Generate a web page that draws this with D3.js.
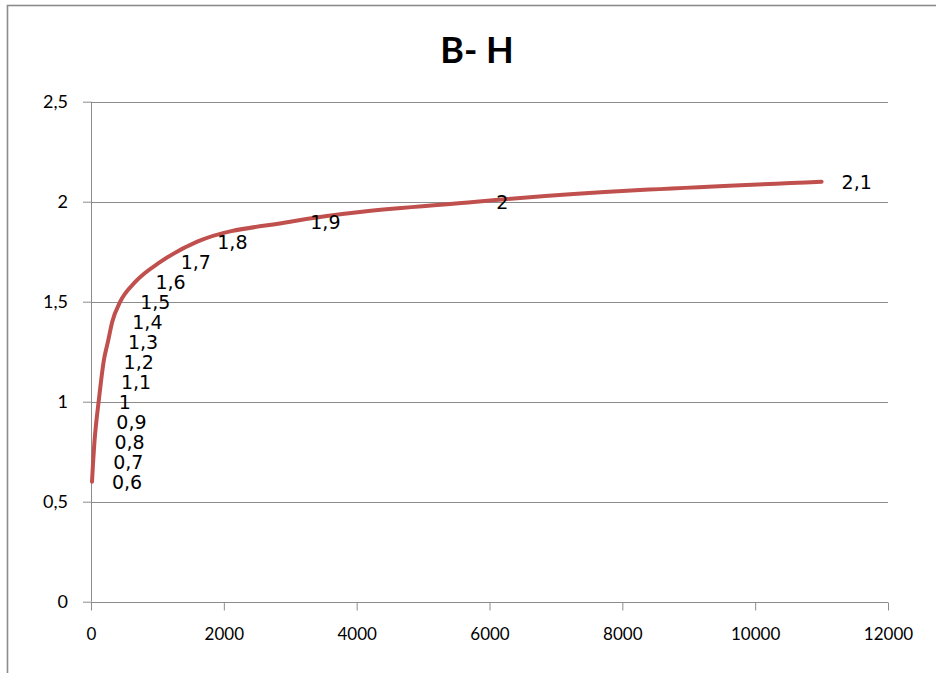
<!DOCTYPE html>
<html>
<head>
<meta charset="utf-8">
<script src="https://cdn.jsdelivr.net/npm/d3@7"></script>
<style>
  html, body { margin: 0; padding: 0; background: #fff; }
  svg { display: block; }
</style>
</head>
<body>
<svg id="chart" width="936" height="673"></svg>
<script>
// Magnetisation curve: flux density B (T) against field strength H (A/m)
const fieldH = [15, 32, 52, 80, 115, 150, 190, 255, 320, 440, 670, 1050, 1600, 3000, 5800, 11000];
const fluxB  = [0.6, 0.7, 0.8, 0.9, 1.0, 1.1, 1.2, 1.3, 1.4, 1.5, 1.6, 1.7, 1.8, 1.9, 2.0, 2.1];
const xTicks = [0, 2000, 4000, 6000, 8000, 10000, 12000];
const yTicks = [0, 0.5, 1, 1.5, 2, 2.5];
const chartTitle = "B- H";

const locale = d3.formatLocale({ decimal: ",", thousands: "", grouping: [3], currency: ["", ""] });
const fmt = locale.format("~g");

const svg = d3.select("#chart");
const plotL = 91, plotR = 888, plotT = 101.7, plotB = 601.7;

const x = d3.scaleLinear().domain([0, 12000]).range([plotL, plotR]);
const y = d3.scaleLinear().domain([0, 2.5]).range([plotB, plotT]);

// outer chart frame
svg.append("rect")
  .attr("x", 7.5).attr("y", 5.5)
  .attr("width", 1000).attr("height", 1000)
  .attr("fill", "none").attr("stroke", "#8c8c8c").attr("stroke-width", 1.6);

// title
svg.append("text")
  .attr("x", 477).attr("y", 63)
  .attr("text-anchor", "middle")
  .attr("font-family", "Lato, 'Open Sans', sans-serif")
  .attr("font-weight", "bold")
  .attr("font-size", 36)
  .attr("fill", "#000")
  .text(chartTitle);

// horizontal gridlines
svg.append("g")
  .selectAll("line")
  .data(yTicks.filter(t => t > 0))
  .join("line")
  .attr("x1", plotL).attr("x2", plotR)
  .attr("y1", d => Math.round(y(d)) + 0.5).attr("y2", d => Math.round(y(d)) + 0.5)
  .attr("stroke", "#8c8c8c").attr("stroke-width", 1);

// y axis
const yAxis = d3.axisLeft(y).tickValues(yTicks).tickSize(8).tickPadding(15).tickFormat(fmt);
const gy = svg.append("g").attr("transform", `translate(${plotL},0)`).call(yAxis);
gy.select(".domain").attr("stroke", "#8c8c8c").attr("d", `M0.5,${plotT}V${plotB}`);
gy.selectAll(".tick line").attr("stroke", "#8c8c8c");
gy.selectAll(".tick text")
  .attr("font-family", "Lato, sans-serif").attr("font-size", 18).attr("fill", "#000");

// x axis
const xAxis = d3.axisBottom(x).tickValues(xTicks).tickSize(8).tickPadding(17).tickFormat(fmt);
const gx = svg.append("g").attr("transform", `translate(0,${Math.round(plotB) + 0.5})`).call(xAxis);
gx.select(".domain").attr("stroke", "#8c8c8c").attr("d", `M${plotL},0H${plotR}`);
gx.selectAll(".tick line").attr("stroke", "#8c8c8c");
gx.selectAll(".tick text")
  .attr("font-family", "Lato, sans-serif").attr("font-size", 17).attr("fill", "#000");

// B-H curve, smoothed between the measured points
const pts = fieldH.map((h, i) => ({ h, b: fluxB[i] }));
svg.append("path")
  .datum(pts)
  .attr("d", d3.line().x(d => x(d.h)).y(d => y(d.b)).curve(d3.curveMonotoneX))
  .attr("fill", "none")
  .attr("stroke", "#c0504d")
  .attr("stroke-width", 4)
  .attr("stroke-linecap", "round")
  .attr("stroke-linejoin", "round");

// value labels to the right of each point
svg.append("g")
  .selectAll("text")
  .data(pts)
  .join("text")
  .attr("x", d => x(d.h) + 20)
  .attr("y", d => y(d.b) + 1)
  .attr("dy", "0.35em")
  .attr("font-family", "'DejaVu Sans', sans-serif")
  .attr("font-size", 19)
  .attr("fill", "#000")
  .text(d => fmt(d.b));
</script>
</body>
</html>
